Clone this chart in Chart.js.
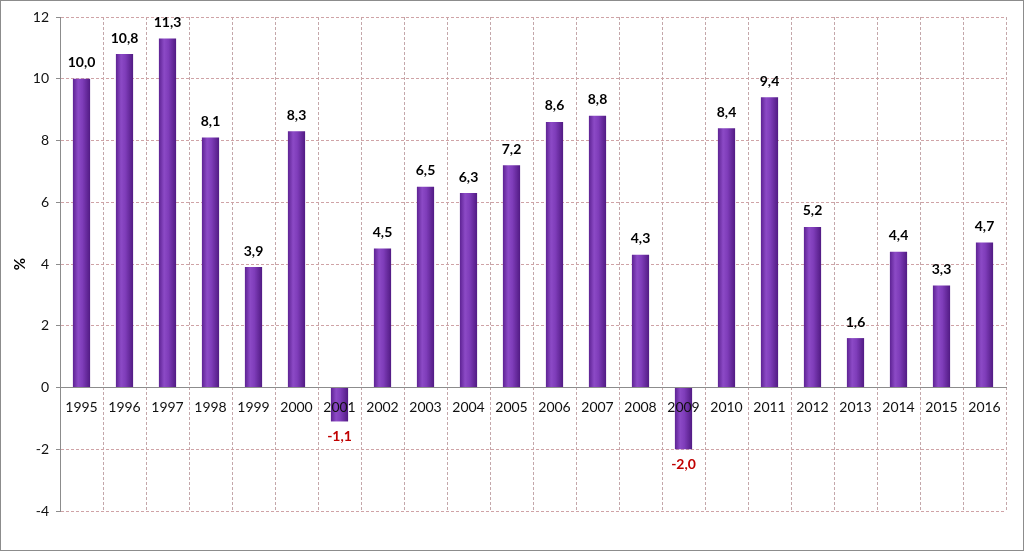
<!DOCTYPE html>
<html>
<head>
<meta charset="utf-8">
<script src="https://cdn.jsdelivr.net/npm/chart.js@4.4.1/dist/chart.umd.min.js"></script>
<style>
  html, body { margin:0; padding:0; background:#fff; }
  #wrap { position:relative; width:1024px; height:551px; box-sizing:border-box; border:1px solid #8c8c8c; background:#fff; }
  canvas { display:block; }
</style>
</head>
<body>
<div id="wrap"><canvas id="grafico"></canvas></div>
<script>
// ─── DADOS ───────────────────────────────────────────────────────────────────
const anos    = ["1995","1996","1997","1998","1999","2000","2001","2002","2003","2004","2005",
                 "2006","2007","2008","2009","2010","2011","2012","2013","2014","2015","2016"];
const valores = [10.0, 10.8, 11.3, 8.1, 3.9, 8.3, -1.1, 4.5, 6.5, 6.3, 7.2,
                 8.6, 8.8, 4.3, -2.0, 8.4, 9.4, 5.2, 1.6, 4.4, 3.3, 4.7];
const eixoMin   = -4;
const eixoMax   = 12;
const eixoPasso = 2;

const FONTE = "Lato, 'Liberation Sans', sans-serif";
const formatar = v => v.toFixed(1).replace(".", ",");

// gradiente "cilindro" de cada barra
function corBarra(ctx){
  const chart = ctx.chart;
  if(!chart.chartArea || ctx.type !== "data") return "#7030a0";
  const el = ctx.element;
  const x  = chart.scales.x.getPixelForValue(ctx.dataIndex);
  const w  = (el && el.width) ? el.width : 17;
  const g  = chart.ctx.createLinearGradient(x - w/2, 0, x + w/2, 0);
  g.addColorStop(0,    "#5e2394");
  g.addColorStop(0.3,  "#8c4ac6");
  g.addColorStop(0.55, "#7f3dba");
  g.addColorStop(1,    "#521b84");
  return g;
}

// rótulos de valor acima / abaixo das barras
const rotulos = {
  id: "rotulos",
  afterDatasetsDraw(chart){
    const c = chart.ctx;
    const meta = chart.getDatasetMeta(0);
    c.save();
    c.font = "bold 14px " + FONTE;
    c.textAlign = "center";
    c.textBaseline = "middle";
    meta.data.forEach((bar, i) => {
      const v = valores[i];
      if(v >= 0){
        c.fillStyle = "#000";
        c.fillText(formatar(v), bar.x, bar.y - 16);
      } else {
        c.fillStyle = "#c00000";
        c.fillText(formatar(v), bar.x, bar.y + 15);
      }
    });
    c.restore();
  }
};

const ctx = document.getElementById("grafico").getContext("2d");
new Chart(ctx, {
  type: "bar",
  data: {
    labels: anos,
    datasets: [{
      data: valores,
      backgroundColor: corBarra,
      borderWidth: 0,
      barPercentage: 0.4,
      categoryPercentage: 1
    }]
  },
  options: {
    responsive: true,
    maintainAspectRatio: false,
    animation: false,
    layout: { padding: { top: 16, right: 17, bottom: 39, left: 0 } },
    plugins: { legend: { display: false }, tooltip: { enabled: false } },
    scales: {
      x: {
        position: { y: 0 },
        grid: {
          offset: true,
          color: "#c4a7aa",
          lineWidth: 1,
          drawTicks: false,
          tickLength: 0
        },
        border: { display: true, color: "#8c8c8c", width: 1, dash: [3, 2] },
        ticks: {
          z: 1,
          color: "#111",
          font: { family: FONTE, size: 14 },
          padding: 12,
          maxRotation: 0,
          autoSkip: false
        }
      },
      y: {
        min: eixoMin,
        max: eixoMax,
        afterFit: s => { s.width = 59; },
        grid: {
          color: "#cfa3a6",
          lineWidth: 1,
          drawTicks: true,
          tickLength: 4,
          tickColor: "#8c8c8c"
        },
        border: { display: true, color: "#8c8c8c", width: 1, dash: [3, 2] },
        ticks: {
          stepSize: eixoPasso,
          color: "#111",
          font: { family: FONTE, size: 14 },
          padding: 7,
          callback: v => v
        },
        title: {
          display: true,
          text: "%",
          color: "#000",
          font: { family: FONTE, size: 15, weight: "bold" },
          padding: { top: 10, bottom: 0 }
        }
      }
    }
  },
  plugins: [rotulos]
});
</script>
</body>
</html>
